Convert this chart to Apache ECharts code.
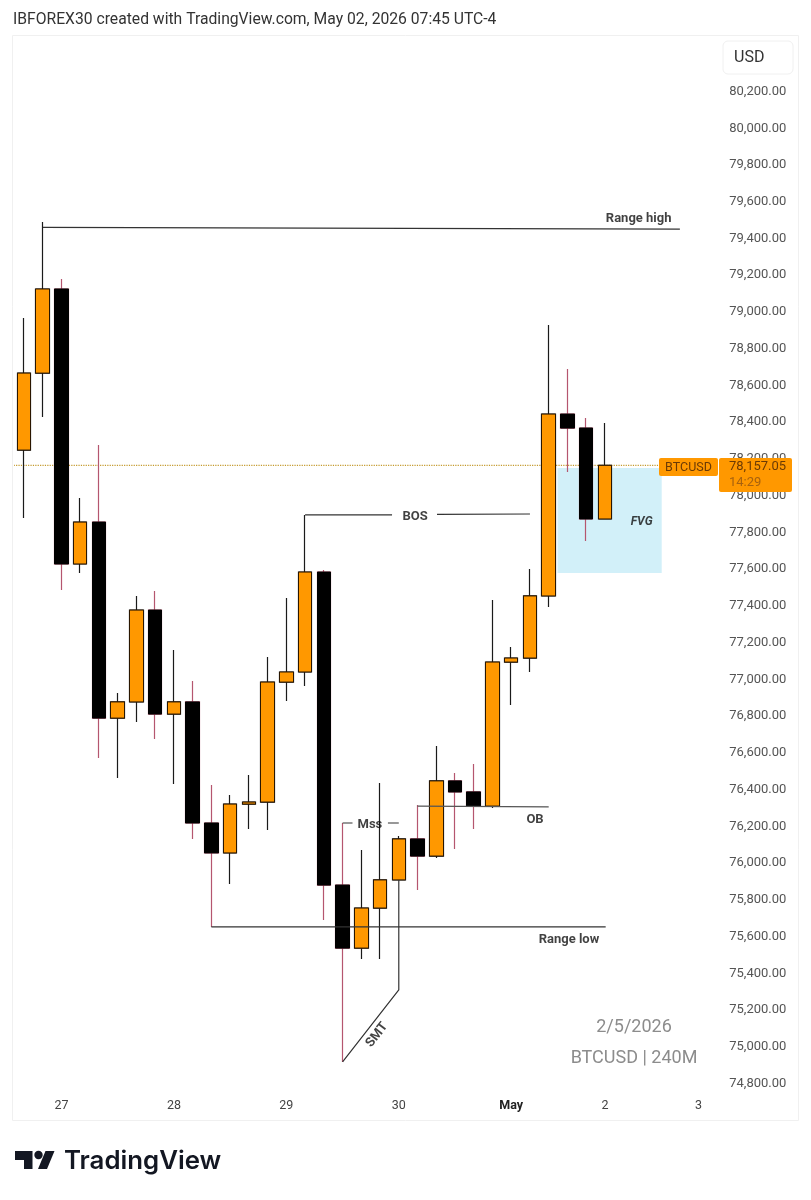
<!DOCTYPE html>
<html>
<head>
<meta charset="utf-8">
<style>
  html, body { margin: 0; padding: 0; background: #fff; }
  #chart { width: 811px; height: 1200px; }
</style>
</head>
<body>
<div id="chart"></div>
<script src="https://cdn.jsdelivr.net/npm/echarts@6/dist/echarts.min.js"></script>
<script>
// day labels sit under the bar they belong to, the rest stay blank
var categories = ['', '', '27', '', '', '', '', '', '28', '', '', '', '', '', '29', '', '', '', '', '', '30', '', '', '', '', '', 'May', '', '', '', '', '2', '', '', '', '', '3', ''];

// 240M bars
var opens  = [78240, 78659, 79117, 77620, 77848, 76781, 76869, 77369, 76803, 76869, 76210, 76047, 76313, 76324, 76977, 77032, 77576, 75872, 75529, 75747, 75900, 76123, 76030, 76439, 76379, 76302, 77086, 77108, 77446, 78436, 78360, 77865];
var closes = [78659, 79117, 77620, 77848, 76781, 76869, 77369, 76803, 76869, 76210, 76047, 76313, 76324, 76977, 77032, 77576, 75872, 75529, 75747, 75900, 76123, 76030, 76439, 76379, 76302, 77086, 77108, 77446, 78436, 78360, 77865, 78157.05];
var lows   = [77870, 78420, 77478, 77571, 76564, 76455, 76760, 76667, 76422, 76123, 75644, 75878, 76177, 76172, 76874, 76956, 75682, 74909, 75470, 75470, 75900, 75845, 76019, 76068, 76177, 76292, 76852, 77032, 77386, 78121, 77745, 77865];
var highs  = [78959, 79481, 79171, 77979, 78268, 76918, 77446, 77473, 77152, 76983, 76417, 76362, 76471, 77114, 77435, 77887, 77587, 76210, 76063, 76428, 76139, 76308, 76629, 76482, 76531, 77424, 77168, 77593, 78921, 78681, 78415, 78387];

var lastPrice = 78157.05;
var priceMin = 74800;
var priceMax = 80400;

// drawings on the chart, as [bar number, price]
var rangeHigh = [[1.01, 79452], [35.0, 79443]];
var rangeLow = [[10, 75644], [31.04, 75644]];
var bosLeft = [[15, 77887], [19.64, 77887]];
var bosRight = [[22.04, 77890], [27.0, 77892]];
var mssLeft = [[17, 76210], [17.53, 76210]];
var mssRight = [[19.42, 76210], [20, 76210]];
var obLine = [[21, 76302], [28, 76298]];
var smtLine = [[17, 74909], [20, 75301], [20, 75900]];
var fvgBox = [[28.47, 78142], [34.03, 77571]];

var noteLabels = [
  { name: 'Range high', value: [32.8, 79509] },
  { name: 'Range low', value: [29.08, 75582] },
  { name: 'BOS', value: [20.87, 77887] },
  { name: 'Mss', value: [18.46, 76210] },
  { name: 'OB', value: [27.27, 76237] }
];
var smtLabel = [{ name: 'SMT', value: [18.84, 75056] }];
var fvgLabel = [{ name: 'FVG', value: [32.96, 77854] }];

var ORANGE = '#ff9800';
var WICK_DOWN = '#b5566f';
var WICK_UP = '#1a1a1a';

var wickData = opens.map(function (o, i) {
  return [o, closes[i], lows[i], highs[i]];
});
// bodies go on top so a black bar keeps a black edge over its red wick
var bodyData = opens.map(function (o, i) {
  return [o, closes[i], Math.min(o, closes[i]), Math.max(o, closes[i])];
});

function drawing(points, color) {
  return {
    type: 'line',
    xAxisIndex: 1,
    data: points,
    symbol: 'none',
    silent: true,
    animation: false,
    z: 5,
    lineStyle: { color: color || '#333333', width: 1.2 }
  };
}

function noteSeries(data, labelStyle) {
  return {
    type: 'scatter',
    xAxisIndex: 1,
    data: data,
    symbolSize: 0,
    silent: true,
    animation: false,
    z: 6,
    label: Object.assign({
      show: true,
      position: 'inside',
      formatter: '{b}',
      color: '#111111',
      fontFamily: 'Roboto',
      fontWeight: 'bold',
      fontSize: 13,
      offset: [0, 1.5]
    }, labelStyle)
  };
}

var chart = echarts.init(document.getElementById('chart'), null, { renderer: 'canvas' });

chart.setOption({
  animation: false,
  backgroundColor: '#ffffff',
  grid: { left: 14.63, width: 712.1, top: 53.3, height: 1028.7, containLabel: false },
  xAxis: [
    {
      type: 'category',
      data: categories,
      axisLine: { show: false },
      axisTick: { show: false },
      splitLine: { show: false },
      axisLabel: {
        interval: 0,
        margin: 17,
        color: '#444444',
        fontFamily: 'Roboto',
        fontSize: 12.5,
        formatter: function (v) {
          return v === 'May' ? '{b|May}' : v;
        },
        rich: { b: { fontWeight: 'bold', fontFamily: 'Roboto', fontSize: 12.5, color: '#222222' } }
      }
    },
    { type: 'value', min: -0.5, max: 37.5, show: false }
  ],
  yAxis: {
    type: 'value',
    position: 'right',
    min: priceMin,
    max: priceMax,
    interval: 200,
    axisLine: { show: false },
    axisTick: { show: false },
    splitLine: { show: false },
    axisLabel: {
      margin: 2.5,
      // nudges the text just under the tick position, as in the picture
      verticalAlign: 'top',
      lineHeight: 3,
      color: '#555555',
      fontFamily: 'Roboto',
      fontSize: 13,
      formatter: function (v) {
        if (v >= priceMax) return '';
        return v.toLocaleString('en-US', { minimumFractionDigits: 2, maximumFractionDigits: 2 });
      }
    }
  },
  series: [
    {
      // FVG box and last price line, both under the candles
      type: 'line',
      xAxisIndex: 1,
      data: [[-0.68, lastPrice], [33.95, lastPrice]],
      symbol: 'none',
      silent: true,
      animation: false,
      z: 1,
      lineStyle: { color: '#c49a2e', width: 1.2, type: 'dotted' },
      markArea: {
        silent: true,
        animation: false,
        itemStyle: { color: '#d2f0f9' },
        data: [[{ coord: fvgBox[0] }, { coord: fvgBox[1] }]]
      }
    },
    {
      type: 'candlestick',
      data: wickData,
      barWidth: 14,
      silent: true,
      z: 2,
      itemStyle: { color: ORANGE, color0: '#000000', borderColor: WICK_UP, borderColor0: WICK_DOWN, borderWidth: 1.2 }
    },
    {
      type: 'candlestick',
      data: bodyData,
      barWidth: 14,
      silent: true,
      z: 3,
      itemStyle: { color: ORANGE, color0: '#000000', borderColor: '#2a1600', borderColor0: '#000000', borderWidth: 1 }
    },
    drawing(rangeHigh),
    drawing(rangeLow),
    drawing(bosLeft),
    drawing(bosRight),
    drawing(mssLeft),
    drawing(mssRight),
    drawing(obLine, '#555555'),
    drawing(smtLine),
    noteSeries(noteLabels, {}),
    noteSeries(smtLabel, { rotate: 52, offset: [0, 0] }),
    noteSeries(fvgLabel, { fontStyle: 'italic', fontSize: 12 })
  ],
  graphic: [
    // chart frame
    { type: 'rect', z: 0, silent: true, shape: { x: 12.5, y: 35.5, width: 786, height: 1085 }, style: { fill: 'none', stroke: '#f0f0f0', lineWidth: 1 } },
    // header
    { type: 'text', z: 20, x: 13, y: 20, style: { text: 'IBFOREX30 created with TradingView.com, May 02, 2026 07:45 UTC-4', fill: '#333333', font: '15.7px Roboto', textVerticalAlign: 'middle' } },
    // currency box
    { type: 'rect', z: 20, shape: { x: 723, y: 41, width: 70, height: 33, r: 5 }, style: { fill: '#ffffff', stroke: '#f0f0f0', lineWidth: 1 } },
    { type: 'text', z: 21, x: 734, y: 58, style: { text: 'USD', fill: '#333333', font: '16px Roboto', textVerticalAlign: 'middle' } },
    // pinned last price
    { type: 'rect', z: 20, shape: { x: 659, y: 458, width: 59, height: 18, r: 2 }, style: { fill: ORANGE } },
    { type: 'text', z: 21, x: 688.5, y: 468, style: { text: 'BTCUSD', fill: '#6b3a05', font: '12.5px Roboto', textAlign: 'center', textVerticalAlign: 'middle' } },
    { type: 'rect', z: 20, shape: { x: 719, y: 458, width: 73, height: 34, r: 2 }, style: { fill: ORANGE } },
    { type: 'text', z: 21, x: 729, y: 466.5, style: { text: '78,157.05', fill: '#6b3a05', font: '13px Roboto', textVerticalAlign: 'middle' } },
    { type: 'text', z: 21, x: 729, y: 483, style: { text: '14:29', fill: '#a8620e', font: '13px Roboto', textVerticalAlign: 'middle' } },
    // watermark
    { type: 'text', z: 20, x: 634, y: 1027, style: { text: '2/5/2026', fill: '#8c8c8c', font: '18px Roboto', textAlign: 'center', textVerticalAlign: 'middle' } },
    { type: 'text', z: 20, x: 634, y: 1058, style: { text: 'BTCUSD | 240M', fill: '#8c8c8c', font: '18px Roboto', textAlign: 'center', textVerticalAlign: 'middle' } },
    // logo
    { type: 'polygon', z: 20, shape: { points: [[15, 1151], [32.5, 1151], [32.5, 1169], [24, 1169], [24, 1160], [15, 1160]] }, style: { fill: '#131722' } },
    { type: 'circle', z: 20, shape: { cx: 38.5, cy: 1155, r: 4.2 }, style: { fill: '#131722' } },
    { type: 'polygon', z: 20, shape: { points: [[45.5, 1151], [54.5, 1151], [47, 1169], [38, 1169]] }, style: { fill: '#131722' } },
    { type: 'text', z: 20, x: 64, y: 1161, style: { text: 'TradingView', fill: '#131722', font: '600 25.8px Inter', textVerticalAlign: 'middle' } }
  ]
});
</script>
</body>
</html>
